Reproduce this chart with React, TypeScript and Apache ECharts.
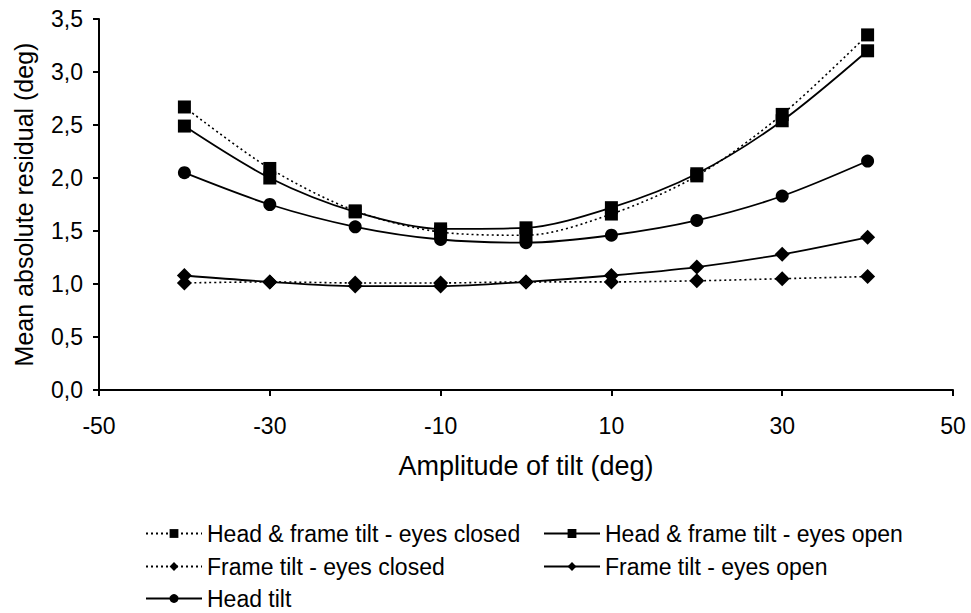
import React, { useEffect, useRef } from "react";
import * as echarts from "echarts";

const xValues = [-40, -30, -20, -10, 0, 10, 20, 30, 40];
const hfClosed = [2.67, 2.09, 1.69, 1.49, 1.46, 1.66, 2.02, 2.6, 3.35];
const hfOpen = [2.49, 2.0, 1.68, 1.52, 1.53, 1.72, 2.04, 2.54, 3.2];
const frameClosed = [1.01, 1.02, 1.01, 1.01, 1.02, 1.02, 1.03, 1.05, 1.07];
const frameOpen = [1.08, 1.02, 0.98, 0.98, 1.02, 1.08, 1.16, 1.28, 1.44];
const headTilt = [2.05, 1.75, 1.54, 1.42, 1.39, 1.46, 1.6, 1.83, 2.16];

const names = [
  "Head & frame tilt - eyes closed",
  "Head & frame tilt - eyes open",
  "Frame tilt - eyes closed",
  "Frame tilt - eyes open",
  "Head tilt",
];

const FONT = "'Liberation Sans', Arial, sans-serif";

function pairs(ys: number[]) {
  return xValues.map((x, i) => [x, ys[i]]);
}

export default function App() {
  const ref = useRef<HTMLDivElement>(null);
  useEffect(() => {
    document.body.style.margin = "0";
    document.body.style.overflow = "hidden";
    if (!ref.current) return;
    const chart = echarts.init(ref.current, undefined, { renderer: "svg" });
    const mk = (
      name: string,
      ys: number[],
      symbol: string,
      size: number,
      dotted: boolean
    ) => ({
      name,
      type: "line",
      data: pairs(ys),
      symbol,
      symbolSize: size,
      smooth: 0.3,
      itemStyle: { color: "#000" },
      lineStyle: {
        color: "#000",
        width: dotted ? 1.6 : 1.8,
        type: dotted ? [2, 3] : "solid",
      },
      z: dotted ? 3 : 2,
    });
    const legendText = { fontFamily: FONT, fontSize: 23, color: "#000" };
    const leg = (name: string, left: number, centerY: number) => ({
      data: [name],
      orient: "horizontal",
      left,
      top: centerY - 13,
      padding: 0,
      itemWidth: 56,
      itemHeight: 11,
      textStyle: legendText,
    });
    chart.setOption({
      animation: false,
      grid: { left: 99, right: 18, top: 19, bottom: 223 },
      xAxis: {
        type: "value",
        min: -50,
        max: 50,
        interval: 20,
        name: "Amplitude of tilt (deg)",
        nameLocation: "middle",
        nameGap: 62,
        nameTextStyle: { fontFamily: FONT, fontSize: 27, color: "#000" },
        axisLine: { onZero: false, lineStyle: { color: "#000", width: 2 } },
        axisTick: { show: true, length: 6, lineStyle: { color: "#000", width: 2 } },
        axisLabel: { fontFamily: FONT, fontSize: 23, color: "#000", margin: 24 },
        splitLine: { show: false },
      },
      yAxis: {
        type: "value",
        min: 0,
        max: 3.5,
        interval: 0.5,
        name: "Mean absolute residual (deg)",
        nameLocation: "middle",
        nameGap: 63,
        nameTextStyle: { fontFamily: FONT, fontSize: 25, color: "#000" },
        axisLine: { show: true, onZero: false, lineStyle: { color: "#000", width: 2 } },
        axisTick: { show: true, length: 6, lineStyle: { color: "#000", width: 2 } },
        axisLabel: {
          fontFamily: FONT,
          fontSize: 23,
          color: "#000",
          margin: 16,
          formatter: (v: number) => v.toFixed(1).replace(".", ","),
        },
        splitLine: { show: false },
      },
      legend: [
        leg(names[0], 145, 535),
        leg(names[1], 543, 535),
        leg(names[2], 145, 568),
        leg(names[3], 543, 568),
        leg(names[4], 145, 600),
      ],
      series: [
        mk(names[0], hfClosed, "rect", 13, true),
        mk(names[1], hfOpen, "rect", 13, false),
        mk(names[2], frameClosed, "diamond", 15, true),
        mk(names[3], frameOpen, "diamond", 15, false),
        mk(names[4], headTilt, "circle", 13, false),
      ],
    });
    return () => chart.dispose();
  }, []);
  return <div ref={ref} style={{ width: 971, height: 613 }} />;
}
